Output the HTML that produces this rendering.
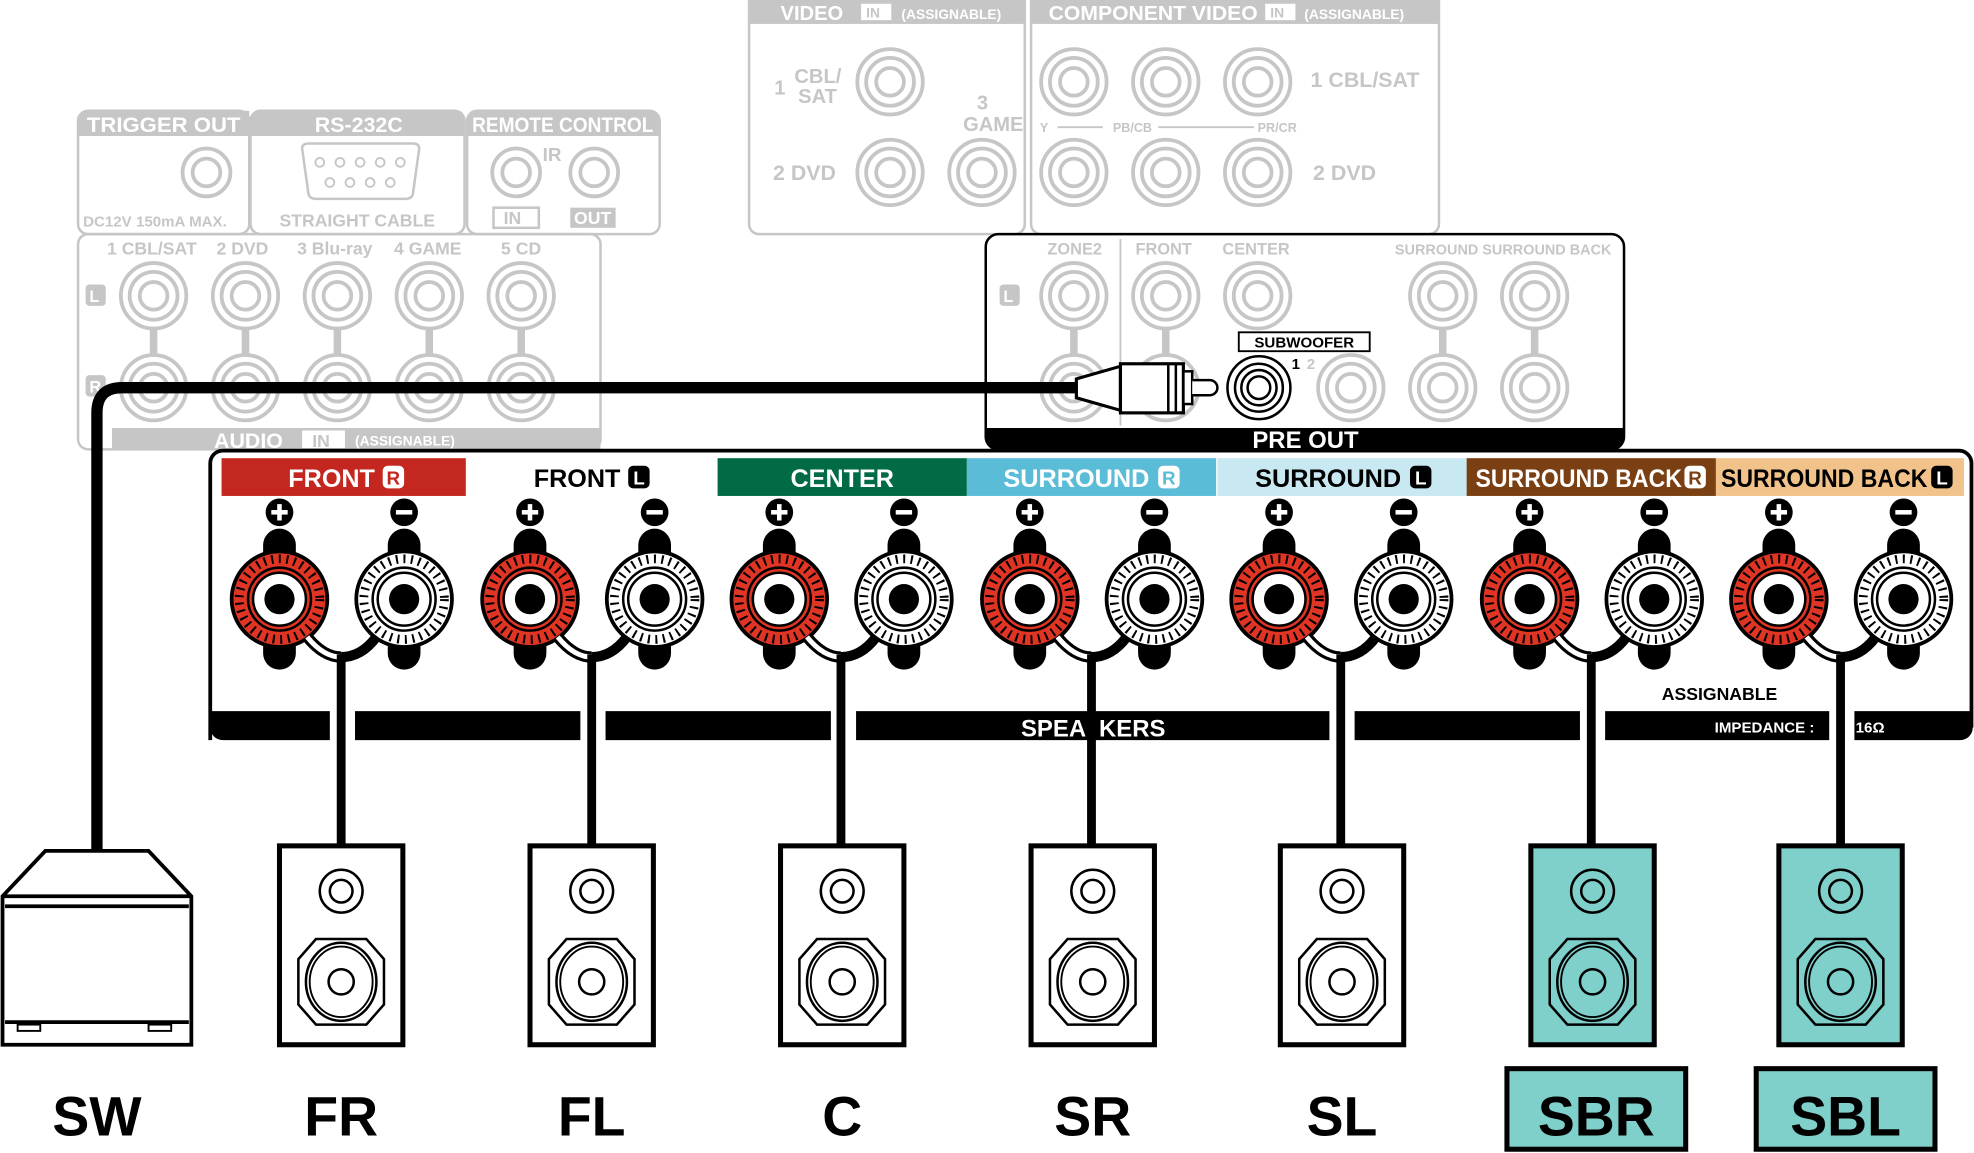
<!DOCTYPE html>
<html><head><meta charset="utf-8"><style>
html,body{margin:0;padding:0;background:#fff;}
svg{display:block;}
text{font-family:"Liberation Sans",sans-serif;font-weight:bold;}
</style></head><body>
<svg width="1974" height="1153" viewBox="0 0 1568 916" preserveAspectRatio="none" xmlns="http://www.w3.org/2000/svg">
<defs>
<g id="gj"><circle r="26" fill="#fff" stroke="#c6c6c6" stroke-width="3"/><circle r="19" fill="none" stroke="#c6c6c6" stroke-width="3"/><circle r="11" fill="none" stroke="#c6c6c6" stroke-width="3"/></g>
<g id="tp"><rect x="-13" y="-56" width="26" height="112" rx="13" fill="#000"/><circle r="38" fill="#e03424" stroke="#000" stroke-width="3"/><circle r="32" fill="none" stroke="#000" stroke-width="7" stroke-dasharray="1.6 4.4"/><circle r="25" fill="#e03424" stroke="#000" stroke-width="2"/><circle r="21" fill="#fff" stroke="#000" stroke-width="2"/><circle r="12" fill="#000"/></g>
<g id="tm"><rect x="-13" y="-56" width="26" height="112" rx="13" fill="#000"/><circle r="38" fill="#fff" stroke="#000" stroke-width="3"/><circle r="32" fill="none" stroke="#000" stroke-width="7" stroke-dasharray="1.6 4.4"/><circle r="25" fill="#fff" stroke="#000" stroke-width="2"/><circle r="21" fill="#fff" stroke="#000" stroke-width="2"/><circle r="12" fill="#000"/></g>
<g id="pl"><circle r="11" fill="#000"/><rect x="-6.5" y="-1.8" width="13" height="3.6" fill="#fff"/><rect x="-1.8" y="-6.5" width="3.6" height="13" fill="#fff"/></g>
<g id="mi"><circle r="11" fill="#000"/><rect x="-6.5" y="-1.8" width="13" height="3.6" fill="#fff"/></g>
<g id="pair">
<use href="#tp" x="0" y="476"/><use href="#tm" x="99" y="476"/>
<use href="#pl" x="0" y="407"/><use href="#mi" x="99" y="407"/>
<path d="M22 506 Q35 522 49 522" fill="none" stroke="#000" stroke-width="9"/>
<path d="M22 506 Q35 522 49 522" fill="none" stroke="#fff" stroke-width="4"/>
<path d="M49 522 Q65 522 77 506" fill="none" stroke="#000" stroke-width="8"/>
<rect x="45.5" y="520" width="7" height="152" fill="#000"/>
</g>
<g id="spk">
<path d="M-17 708a17 17 0 1 0 34 0a17 17 0 1 0 -34 0M-9 708a9 9 0 1 0 18 0a9 9 0 1 0 -18 0" fill="none" stroke="#000" stroke-width="2"/>
<path d="M-20 746 L20 746 L34 762 L34 798 L20 814 L-20 814 L-34 798 L-34 762 Z" fill="none" stroke="#000" stroke-width="2"/>
<ellipse cx="0" cy="780" rx="28" ry="31" fill="none" stroke="#000" stroke-width="2"/>
<ellipse cx="0" cy="780" rx="25" ry="28" fill="none" stroke="#000" stroke-width="1.5"/>
<circle cx="0" cy="780" r="10" fill="none" stroke="#000" stroke-width="2"/>
</g>
</defs>

<g fill="none" stroke="#c6c6c6" stroke-width="2">
<rect x="62" y="88" width="136" height="98" rx="8"/>
<rect x="199" y="88" width="170" height="98" rx="8"/>
<rect x="371" y="88" width="153" height="98" rx="8"/>
<rect x="595" y="-10" width="219" height="196" rx="8"/>
<rect x="819" y="-10" width="324" height="196" rx="8"/>
<rect x="62" y="186" width="415" height="171" rx="8"/>
</g>
<g fill="#c6c6c6">
<path d="M62 108 V96 a8 8 0 0 1 8 -8 H198 V108Z"/>
<path d="M199 108 V96 a8 8 0 0 1 8 -8 H361 a8 8 0 0 1 8 8 V108Z"/>
<path d="M371 108 V96 a8 8 0 0 1 8 -8 H516 a8 8 0 0 1 8 8 V108Z"/>
<rect x="595" y="0" width="219" height="19"/>
<rect x="819" y="0" width="324" height="19"/>
<rect x="89" y="340" width="388" height="17"/>
</g>
<g fill="#fff" font-size="17">
<text x="130" y="105" text-anchor="middle" textLength="122" lengthAdjust="spacingAndGlyphs">TRIGGER OUT</text>
<text x="285" y="105" text-anchor="middle">RS-232C</text>
<text x="447" y="105" text-anchor="middle" textLength="144" lengthAdjust="spacingAndGlyphs">REMOTE CONTROL</text>
<text x="620" y="16" font-size="16">VIDEO</text>
<text x="833" y="16" font-size="16" textLength="166" lengthAdjust="spacingAndGlyphs">COMPONENT VIDEO</text>
<text x="170" y="356" font-size="17">AUDIO</text>
<text x="716" y="15" font-size="11">(ASSIGNABLE)</text>
<text x="1036" y="15" font-size="11">(ASSIGNABLE)</text>
<text x="282" y="354" font-size="11">(ASSIGNABLE)</text>
</g>
<g fill="#fff" stroke="none"><rect x="684" y="3" width="24" height="13"/><rect x="1005" y="3" width="24" height="13"/><rect x="240" y="342" width="34" height="14"/></g>
<g fill="#c6c6c6" font-size="11"><text x="688" y="14">IN</text><text x="1009" y="14">IN</text><text x="248" y="355" font-size="14">IN</text></g>
<g fill="#c6c6c6" font-size="15">
<text x="66" y="180" font-size="12">DC12V 150mA MAX.</text>
<text x="222" y="180" font-size="14">STRAIGHT CABLE</text>
<text x="431" y="128" font-size="15">IR</text>
<text x="85" y="202" font-size="14">1 CBL/SAT</text>
<text x="172" y="202" font-size="14">2 DVD</text>
<text x="236" y="202" font-size="14">3 Blu-ray</text>
<text x="313" y="202" font-size="14">4 GAME</text>
<text x="398" y="202" font-size="14">5 CD</text>
<text x="615" y="75" font-size="16">1</text>
<text x="631" y="66" font-size="16">CBL/</text><text x="634" y="82" font-size="16">SAT</text>
<text x="776" y="87" font-size="16">3</text><text x="765" y="104" font-size="16">GAME</text>
<text x="614" y="143" font-size="17">2  DVD</text>
<text x="1041" y="69" font-size="17">1 CBL/SAT</text>
<text x="1043" y="143" font-size="17">2 DVD</text>
<text x="826" y="105" font-size="10">Y</text>
<text x="884" y="105" font-size="10">PB/CB</text>
<text x="999" y="105" font-size="10">PR/CR</text>
</g>
<g stroke="#c6c6c6" stroke-width="1.5"><line x1="840" y1="101" x2="876" y2="101"/><line x1="920" y1="101" x2="996" y2="101"/></g>
<rect x="392" y="165" width="36" height="16" fill="none" stroke="#c6c6c6" stroke-width="2"/>
<rect x="453" y="165" width="36" height="16" fill="#c6c6c6"/>
<text x="400" y="178" font-size="14" fill="#c6c6c6">IN</text><text x="456" y="178" font-size="14" fill="#fff">OUT</text>
<path d="M240 118 Q240 114 245 114 H328 Q333 114 333 118 L328 154 Q327 158 322 158 H251 Q246 158 245 154Z" fill="none" stroke="#c6c6c6" stroke-width="2"/>
<g fill="none" stroke="#c6c6c6" stroke-width="1.5">
<circle cx="254" cy="129" r="3.5"/><circle cx="270" cy="129" r="3.5"/><circle cx="286" cy="129" r="3.5"/><circle cx="302" cy="129" r="3.5"/><circle cx="318" cy="129" r="3.5"/>
<circle cx="262" cy="145" r="3.5"/><circle cx="278" cy="145" r="3.5"/><circle cx="294" cy="145" r="3.5"/><circle cx="310" cy="145" r="3.5"/>
</g>
<g fill="none" stroke="#c6c6c6" stroke-width="3">
<circle cx="164" cy="137" r="19"/><circle cx="164" cy="137" r="11"/>
<circle cx="410" cy="137" r="19"/><circle cx="410" cy="137" r="11"/>
<circle cx="472" cy="137" r="19"/><circle cx="472" cy="137" r="11"/>
</g>
<g fill="#c6c6c6"><rect x="68" y="226" width="16" height="17" rx="3"/><rect x="68" y="298" width="16" height="17" rx="3"/></g>
<g fill="#fff"><text x="71" y="240" font-size="13">L</text><text x="71" y="312" font-size="13">R</text></g>
<g fill="#c6c6c6"><rect x="119" y="255" width="6" height="40"/><rect x="192" y="255" width="6" height="40"/><rect x="265" y="255" width="6" height="40"/><rect x="338" y="255" width="6" height="40"/><rect x="411" y="255" width="6" height="40"/></g>
<use href="#gj" x="122" y="235"/><use href="#gj" x="195" y="235"/><use href="#gj" x="268" y="235"/><use href="#gj" x="341" y="235"/><use href="#gj" x="414" y="235"/>
<use href="#gj" x="122" y="308"/><use href="#gj" x="195" y="308"/><use href="#gj" x="268" y="308"/><use href="#gj" x="341" y="308"/><use href="#gj" x="414" y="308"/>
<use href="#gj" x="707" y="65"/><use href="#gj" x="707" y="137"/><use href="#gj" x="780" y="137"/>
<use href="#gj" x="853" y="65"/><use href="#gj" x="926" y="65"/><use href="#gj" x="999" y="65"/>
<use href="#gj" x="853" y="137"/><use href="#gj" x="926" y="137"/><use href="#gj" x="999" y="137"/>

<rect x="783" y="186" width="507" height="171" rx="10" fill="#fff" stroke="#000" stroke-width="2"/>
<path d="M783 340 H1290 V347 a10 10 0 0 1 -10 10 H793 a10 10 0 0 1 -10 -10Z" fill="#000"/>
<text x="1037" y="356" font-size="19" fill="#fff" text-anchor="middle">PRE OUT</text>
<line x1="890" y1="190" x2="890" y2="338" stroke="#c6c6c6" stroke-width="1.5"/>
<g fill="#c6c6c6">
<text x="832" y="202" font-size="13">ZONE2</text>
<text x="902" y="202" font-size="13">FRONT</text>
<text x="971" y="202" font-size="13">CENTER</text>
<text x="1108" y="202" font-size="12" textLength="172" lengthAdjust="spacingAndGlyphs">SURROUND SURROUND BACK</text>
</g>
<g fill="#c6c6c6"><rect x="850" y="255" width="6" height="40"/><rect x="923" y="255" width="6" height="40"/><rect x="1143" y="255" width="6" height="40"/><rect x="1216" y="255" width="6" height="40"/></g>
<g fill="#c6c6c6"><rect x="794" y="226" width="16" height="17" rx="3"/></g><text x="797" y="240" font-size="13" fill="#fff">L</text>
<use href="#gj" x="853" y="235"/><use href="#gj" x="926" y="235"/><use href="#gj" x="999" y="235"/><use href="#gj" x="1146" y="235"/><use href="#gj" x="1219" y="235"/>
<use href="#gj" x="853" y="308"/><use href="#gj" x="926" y="308"/><use href="#gj" x="1073" y="308"/><use href="#gj" x="1146" y="308"/><use href="#gj" x="1219" y="308"/>
<rect x="984" y="264" width="104" height="15" fill="#fff" stroke="#000" stroke-width="1.5"/>
<text x="1036" y="276" font-size="12" text-anchor="middle">SUBWOOFER</text>
<text x="1026" y="293" font-size="12">1</text><text x="1038" y="293" font-size="12" fill="#c6c6c6">2</text>
<g fill="#fff" stroke="#000" stroke-width="2"><circle cx="1000" cy="308" r="25"/><circle cx="1000" cy="308" r="19"/><circle cx="1000" cy="308" r="14"/><circle cx="1000" cy="308" r="9"/></g>

<path d="M77 676 V328 Q77 308 97 308 H860" fill="none" stroke="#000" stroke-width="9"/>
<path d="M855 301 L890 291 V326 L855 316Z" fill="#fff" stroke="#000" stroke-width="2.5"/>
<rect x="890" y="289" width="50" height="39" fill="#fff" stroke="#000" stroke-width="2.5"/>
<line x1="928" y1="289" x2="928" y2="328" stroke="#000" stroke-width="2"/><line x1="934" y1="289" x2="934" y2="328" stroke="#000" stroke-width="2"/>
<rect x="940" y="295" width="7" height="26" fill="#fff" stroke="#000" stroke-width="2"/>
<path d="M947 302 H961 a6 6 0 0 1 0 12 H947" fill="#fff" stroke="#000" stroke-width="2"/>

<path d="M167 588 V368 a10 10 0 0 1 10 -10 H1556 a10 10 0 0 1 10 10 V578" fill="none" stroke="#000" stroke-width="3"/>
<path d="M167 565 H1567 V578 a10 10 0 0 1 -10 10 H177 a10 10 0 0 1 -10 -10Z" fill="#000"/>
<g fill="#fff"><rect x="262" y="563" width="20" height="27"/><rect x="461" y="563" width="20" height="27"/><rect x="660" y="563" width="20" height="27"/><rect x="1056" y="563" width="20" height="27"/><rect x="1255" y="563" width="20" height="27"/><rect x="1453" y="563" width="20" height="27"/></g>
<text x="811" y="585" font-size="19" fill="#fff">SPEA</text><text x="873" y="585" font-size="19" fill="#fff">KERS</text>
<text x="1362" y="582" font-size="12" fill="#fff">IMPEDANCE :</text>
<text x="1474" y="582" font-size="12" fill="#fff">16Ω</text>
<text x="1320" y="556" font-size="14">ASSIGNABLE</text>

<rect x="176" y="364" width="194" height="30" fill="#c4271f"/>
<rect x="570" y="364" width="198" height="30" fill="#006b45"/>
<rect x="768" y="364" width="198" height="30" fill="#5bbcd8"/>
<rect x="967" y="364" width="198" height="30" fill="#c8e8f2"/>
<rect x="1165" y="364" width="198" height="30" fill="#7a3f12"/>
<rect x="1363" y="364" width="197" height="30" fill="#f1c28a"/>
<g font-size="20">
<text x="229" y="387" fill="#fff">FRONT</text><rect x="304" y="370" width="17" height="18" rx="4" fill="#fff"/><text x="307" y="385" font-size="15" fill="#c4271f">R</text>
<text x="424" y="387" fill="#000">FRONT</text><rect x="499" y="370" width="17" height="18" rx="4" fill="#000"/><text x="503" y="385" font-size="15" fill="#fff">L</text>
<text x="669" y="387" fill="#fff" text-anchor="middle">CENTER</text>
<text x="797" y="387" fill="#fff" textLength="116" lengthAdjust="spacingAndGlyphs">SURROUND</text><rect x="920" y="370" width="17" height="18" rx="4" fill="#fff"/><text x="923" y="385" font-size="15" fill="#5bbcd8">R</text>
<text x="997" y="387" fill="#000" textLength="116" lengthAdjust="spacingAndGlyphs">SURROUND</text><rect x="1120" y="370" width="17" height="18" rx="4" fill="#000"/><text x="1124" y="385" font-size="15" fill="#fff">L</text>
<text x="1172" y="387" fill="#fff" textLength="164" lengthAdjust="spacingAndGlyphs">SURROUND BACK</text><rect x="1338" y="370" width="17" height="18" rx="4" fill="#fff"/><text x="1341" y="385" font-size="15" fill="#7a3f12">R</text>
<text x="1367" y="387" fill="#000" textLength="164" lengthAdjust="spacingAndGlyphs">SURROUND BACK</text><rect x="1534" y="370" width="17" height="18" rx="4" fill="#000"/><text x="1538" y="385" font-size="15" fill="#fff">L</text>
</g>

<use href="#pair" x="222"/><use href="#pair" x="421"/><use href="#pair" x="619"/><use href="#pair" x="818"/><use href="#pair" x="1016"/><use href="#pair" x="1215"/><use href="#pair" x="1413"/>

<g stroke="#000" stroke-width="4">
<rect x="222" y="672" width="98" height="158" fill="#fff"/>
<rect x="421" y="672" width="98" height="158" fill="#fff"/>
<rect x="620" y="672" width="98" height="158" fill="#fff"/>
<rect x="819" y="672" width="98" height="158" fill="#fff"/>
<rect x="1017" y="672" width="98" height="158" fill="#fff"/>
<rect x="1216" y="672" width="98" height="158" fill="#7fcfca"/>
<rect x="1413" y="672" width="98" height="158" fill="#7fcfca"/>
</g>
<use href="#spk" x="271"/><use href="#spk" x="470"/><use href="#spk" x="669"/><use href="#spk" x="868"/><use href="#spk" x="1066"/><use href="#spk" x="1265"/><use href="#spk" x="1462"/>

<g fill="#fff" stroke="#000" stroke-width="3">
<path d="M36 676 H118 L152 712 V830 H2 V712Z"/>
<line x1="2" y1="712" x2="152" y2="712"/><line x1="4" y1="720" x2="150" y2="720"/>
<line x1="4" y1="812" x2="150" y2="812"/>
</g>
<g fill="none" stroke="#000" stroke-width="1.5"><rect x="14" y="814" width="18" height="5"/><rect x="118" y="814" width="18" height="5"/></g>

<rect x="1197" y="849" width="142" height="64" fill="#7fcfca" stroke="#000" stroke-width="4"/>
<rect x="1395" y="849" width="142" height="64" fill="#7fcfca" stroke="#000" stroke-width="4"/>
<g font-size="44" text-anchor="middle">
<text x="77" y="902">SW</text>
<text x="271" y="902">FR</text>
<text x="470" y="902">FL</text>
<text x="669" y="902">C</text>
<text x="868" y="902">SR</text>
<text x="1066" y="902">SL</text>
<text x="1268" y="902">SBR</text>
<text x="1466" y="902">SBL</text>
</g>
</svg>
</body></html>
